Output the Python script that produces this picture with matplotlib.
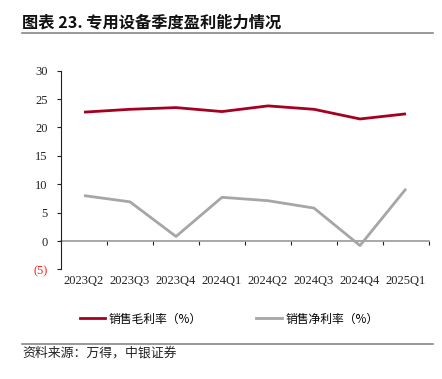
#!/usr/bin/env python3
"""专用设备季度盈利能力情况"""

import numpy as np
import matplotlib
matplotlib.use('Agg')
import matplotlib.pyplot as plt
from matplotlib.lines import Line2D

quarters = ['2023Q2', '2023Q3', '2023Q4', '2024Q1', '2024Q2', '2024Q3', '2024Q4', '2025Q1']
gross_margin = [22.7, 23.2, 23.5, 22.8, 23.8, 23.2, 21.5, 22.4]
net_margin = [8.0, 6.9, 0.8, 7.7, 7.1, 5.8, -0.8, 9.2]
y_ticks = [-5, 0, 5, 10, 15, 20, 25, 30]
y_labels = ['(5)', '0', '5', '10', '15', '20', '25', '30']

RED = '#A50021'
GREY = '#A6A6A6'
CJK = ['Noto Sans CJK SC', 'DejaVu Sans']
SERIF = ['Liberation Serif', 'DejaVu Serif']

fig = plt.figure(figsize=(4.42, 3.79), dpi=100)
ax = fig.add_axes([61 / 442, 1 - 269.4 / 379, 368 / 442, 198.7 / 379])

x = np.arange(len(quarters))
ax.plot(x, gross_margin, color=RED, linewidth=2.0, solid_capstyle='butt')
ax.plot(x, net_margin, color=GREY, linewidth=2.0, solid_capstyle='butt')

ax.set_xlim(-0.5, len(quarters) - 0.5)
ax.set_ylim(-5, 30)

# y axis
ax.set_yticks(y_ticks)
ax.set_yticklabels(y_labels, family=SERIF, fontsize=9, color='#222222')
ax.get_yticklabels()[0].set_color('#FF2020')
ax.tick_params(axis='y', length=3, width=0.8, color='#222222', pad=6.5)

# x labels at bottom, no tick marks
ax.set_xticks(x)
ax.set_xticklabels(quarters, family=SERIF, fontsize=9, color='#222222')
ax.tick_params(axis='x', length=0, pad=4)

for side in ['top', 'right', 'bottom']:
    ax.spines[side].set_visible(False)
ax.spines['left'].set_color('#222222')
ax.spines['left'].set_linewidth(0.8)

# zero line with category separator ticks
sec = ax.secondary_xaxis(0, transform=ax.transData)
sec.set_xticks(x + 0.5)
sec.tick_params(axis='x', length=3, width=0.8, color='#222222', labelbottom=False)
sec.spines['bottom'].set_color('#999999')
sec.spines['bottom'].set_linewidth(1.2)

# legend
handles = [Line2D([], [], color=RED, linewidth=2.0),
           Line2D([], [], color=GREY, linewidth=2.0)]
fig.legend(handles, ['销售毛利率（%）', '销售净利率（%）'], loc='center',
           bbox_to_anchor=(229 / 442, 1 - 319 / 379), ncol=2, frameon=False,
           prop={'family': CJK, 'size': 8.5}, handlelength=2.15,
           handletextpad=0.3, columnspacing=4.6)

# title and source with rules
fig.text(22 / 442, 1 - 22 / 379, '图表 23. 专用设备季度盈利能力情况', family=CJK,
         fontsize=11.7, fontweight='bold', va='center', ha='left', color='#111111')
fig.add_artist(Line2D([22 / 442, 433 / 442], [1 - 33 / 379] * 2, color='#888888', linewidth=1.2))
fig.add_artist(Line2D([22 / 442, 433 / 442], [1 - 344 / 379] * 2, color='#888888', linewidth=1.2))
fig.text(22 / 442, 1 - 353 / 379, '资料来源：万得，中银证券', family=CJK,
         fontsize=9.3, va='center', ha='left', color='#222222')

fig.savefig('out.png', dpi=100)
